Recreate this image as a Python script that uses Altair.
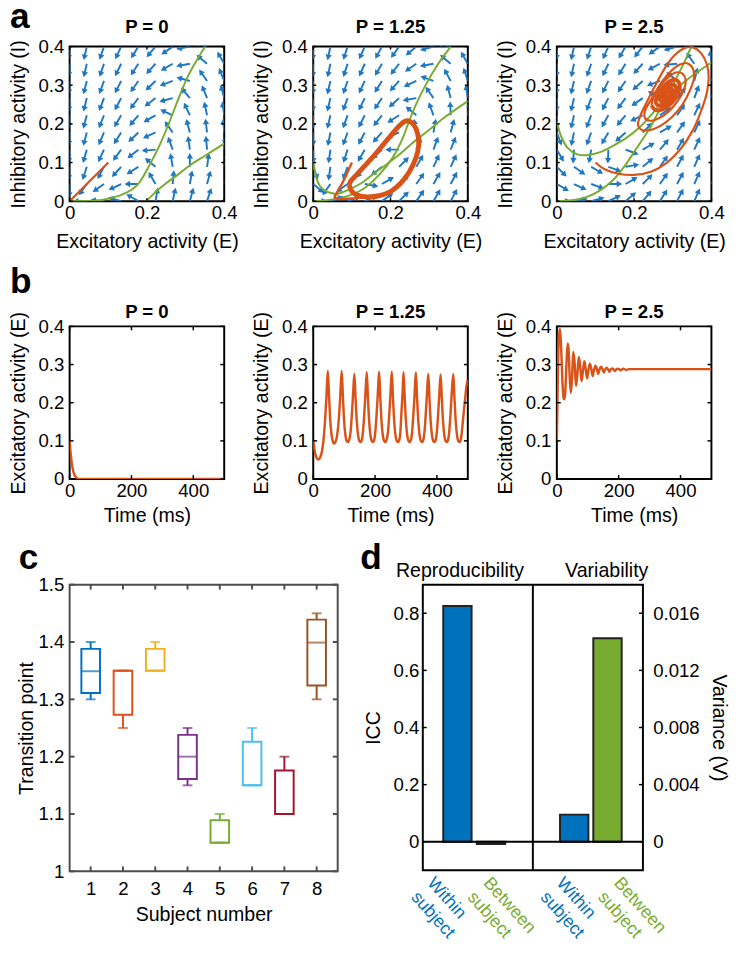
import altair as alt
import pandas as pd

FONT = "Liberation Sans"
BLUE = "#0072BD"
ORANGE = "#D95319"
GREEN = "#77AC30"
QUIVER = "#1f78c1"

# ---------------- panel a : phase planes ----------------
GRID = [0.0, 0.0444, 0.0889, 0.1333, 0.1778, 0.2222, 0.2667, 0.3111, 0.3556, 0.4]

# arrow directions in degrees (0 = towards +E, 90 = towards +I); first row is I = 0
A1_DIR = [
    [270, 180, 175, 165, 150, 80, 78, 75, 72, 70],
    [268, 235, 215, 205, 180, 120, 85, 80, 75, 72],
    [266, 252, 242, 228, 212, 140, 100, 90, 82, 78],
    [266, 254, 245, 234, 218, 185, 110, 98, 95, 85],
    [266, 255, 247, 238, 224, 205, 125, 105, 97, 95],
    [266, 255, 248, 240, 230, 210, 155, 115, 102, 98],
    [266, 256, 249, 242, 233, 218, 195, 130, 112, 105],
    [266, 256, 250, 243, 235, 224, 200, 165, 125, 112],
    [266, 257, 251, 244, 237, 228, 210, 190, 140, 120],
    [265, 257, 251, 245, 238, 230, 215, 190, 165, 130],
]
A2_DIR = [
    [0, 20, 20, 25, 35, 45, 55, 60, 62, 62],
    [320, 235, 215, 350, 30, 45, 55, 60, 62, 62],
    [290, 262, 250, 232, 218, 45, 60, 65, 65, 65],
    [270, 262, 252, 240, 222, 180, 70, 70, 68, 65],
    [270, 259, 250, 242, 228, 205, 100, 80, 75, 70],
    [268, 257, 250, 243, 232, 212, 140, 110, 92, 80],
    [268, 257, 250, 244, 236, 222, 190, 125, 105, 98],
    [268, 257, 251, 245, 238, 228, 205, 160, 118, 108],
    [268, 258, 252, 246, 240, 232, 215, 190, 140, 120],
    [268, 258, 252, 246, 241, 234, 220, 195, 170, 130],
]
A3_DIR = [
    [0, 10, 15, 25, 40, 50, 58, 63, 66, 68],
    [330, 335, 340, 0, 30, 45, 55, 62, 66, 68],
    [315, 325, 330, 340, 10, 40, 55, 62, 66, 68],
    [300, 266, 260, 268, 340, 30, 50, 60, 65, 68],
    [290, 258, 250, 240, 222, 45, 30, 55, 65, 68],
    [268, 257, 249, 241, 230, 205, 35, 55, 65, 68],
    [268, 257, 250, 243, 233, 215, 150, 50, 70, 72],
    [268, 257, 250, 244, 236, 222, 200, 140, 75, 70],
    [268, 258, 251, 245, 238, 228, 208, 185, 125, 95],
    [268, 258, 252, 246, 240, 232, 215, 195, 165, 135],
]

A1_NC1_E = [0.0, 0.04, 0.08, 0.131, 0.164, 0.181, 0.206, 0.232, 0.257, 0.282, 0.307, 0.349, 0.352]
A1_NC1_I = [0.0, 0.0005, 0.0025, 0.015, 0.032, 0.049, 0.092, 0.143, 0.202, 0.266, 0.325, 0.397, 0.4]
A1_NC2_E = [0.198, 0.223, 0.248, 0.282, 0.316, 0.349, 0.4]
A1_NC2_I = [0.0, 0.024, 0.045, 0.070, 0.096, 0.117, 0.149]
A1_TR_E = [0.1, 0.05, 0.0]
A1_TR_I = [0.1, 0.05, 0.0]

A2_NC1_E = [0.0, 0.008, 0.017, 0.029, 0.046, 0.063, 0.088, 0.122, 0.155, 0.189, 0.222, 0.256, 0.298, 0.340, 0.4]
A2_NC1_I = [0.105, 0.061, 0.040, 0.028, 0.021, 0.019, 0.028, 0.045, 0.070, 0.095, 0.120, 0.150, 0.183, 0.217, 0.259]
A2_NC2_E = [0.0, 0.046, 0.088, 0.130, 0.172, 0.205, 0.231, 0.247, 0.264, 0.289, 0.323, 0.356]
A2_NC2_I = [0.0, 0.004, 0.013, 0.032, 0.070, 0.112, 0.162, 0.204, 0.246, 0.297, 0.355, 0.4]
A2_TR_E = [0.1, 0.09, 0.078, 0.066, 0.058, 0.055, 0.062, 0.08, 0.1, 0.125, 0.15, 0.17]
A2_TR_I = [0.1, 0.078, 0.052, 0.03, 0.016, 0.01, 0.007, 0.006, 0.007, 0.01, 0.012, 0.014]
A2_CY_E = [0.093, 0.1, 0.115, 0.14, 0.17, 0.2, 0.225, 0.248, 0.265, 0.273, 0.27, 0.258, 0.243,
           0.228, 0.205, 0.18, 0.155, 0.13, 0.11, 0.097, 0.093]
A2_CY_I = [0.042, 0.025, 0.015, 0.011, 0.014, 0.025, 0.045, 0.075, 0.11, 0.145, 0.175, 0.2, 0.208,
           0.2, 0.175, 0.145, 0.115, 0.088, 0.066, 0.052, 0.042]

A3_NC1_E = [0.0, 0.011, 0.028, 0.053, 0.078, 0.112, 0.145, 0.179, 0.213, 0.246, 0.285, 0.313, 0.347, 0.4]
A3_NC1_I = [0.206, 0.168, 0.138, 0.121, 0.119, 0.127, 0.143, 0.163, 0.190, 0.225, 0.272, 0.295, 0.322, 0.359]
A3_NC2_E = [0.0, 0.045, 0.078, 0.112, 0.145, 0.175, 0.205, 0.235, 0.26, 0.285, 0.31, 0.33, 0.347, 0.349]
A3_NC2_I = [0.0, 0.003, 0.011, 0.028, 0.054, 0.09, 0.135, 0.18, 0.225, 0.272, 0.32, 0.36, 0.397, 0.4]
A3_SP_E = [0.100, 0.125, 0.160, 0.200, 0.245, 0.285, 0.320, 0.350, 0.372, 0.388, 0.393, 0.388, 0.373,
           0.352, 0.330, 0.305, 0.280, 0.255, 0.232, 0.215, 0.210, 0.218, 0.240, 0.268, 0.298, 0.325,
           0.345, 0.355, 0.351, 0.337, 0.317, 0.293, 0.268, 0.245, 0.228, 0.228, 0.242, 0.265, 0.292,
           0.315, 0.330, 0.333, 0.325, 0.308, 0.288, 0.266, 0.250, 0.245]
A3_SP_I = [0.100, 0.082, 0.071, 0.068, 0.077, 0.100, 0.135, 0.180, 0.230, 0.280, 0.320, 0.355, 0.383,
           0.398, 0.396, 0.378, 0.345, 0.300, 0.255, 0.218, 0.197, 0.185, 0.184, 0.195, 0.218, 0.250,
           0.288, 0.320, 0.345, 0.357, 0.353, 0.334, 0.303, 0.265, 0.233, 0.215, 0.208, 0.215, 0.235,
           0.263, 0.292, 0.315, 0.330, 0.333, 0.320, 0.296, 0.268, 0.248]
A3_IN_E = [0.245, 0.255, 0.275, 0.298, 0.314, 0.318, 0.310, 0.293, 0.273, 0.259, 0.257, 0.268, 0.288,
           0.304, 0.309, 0.300, 0.284, 0.269, 0.266, 0.276, 0.292, 0.300, 0.295, 0.282, 0.273, 0.278,
           0.290, 0.292, 0.283, 0.280, 0.286]
A3_IN_I = [0.248, 0.236, 0.238, 0.255, 0.280, 0.300, 0.313, 0.311, 0.293, 0.270, 0.253, 0.247, 0.256,
           0.275, 0.293, 0.302, 0.296, 0.279, 0.263, 0.257, 0.266, 0.282, 0.292, 0.288, 0.275, 0.266,
           0.272, 0.282, 0.283, 0.275, 0.275]

# ---------------- panel b : time series ----------------
B1_T = [0, 3, 6, 10, 14, 18, 24, 32, 500]
B1_E = [0.1, 0.07, 0.047, 0.027, 0.014, 0.007, 0.002, 0.0, 0.0]

B2_T = [0, 5, 10, 16, 22, 28, 33, 38, 43, 47,
        51, 55, 59, 63, 67, 72, 77, 82, 87, 92,
        96, 100, 104, 108, 112, 116, 121, 125, 129, 133,
        137, 141, 145, 149, 153, 157, 161, 165, 169, 173,
        177, 181, 185, 189, 193, 197, 201, 205, 209, 213,
        217, 221, 225, 229, 233, 237, 242, 246, 250, 254,
        258, 262, 266, 270, 274, 278, 282, 285, 289, 292,
        296, 300, 304, 308, 312, 316, 320, 324, 328, 332,
        336, 340, 344, 348, 352, 356, 360, 364, 368, 372,
        376, 380, 384, 388, 392, 396, 400, 404, 408, 412,
        416, 420, 424, 428, 432, 436, 440, 444, 448, 453,
        457, 461, 465, 469, 473, 477, 481, 485, 490, 496, 500]
B2_E = [0.1, 0.072, 0.057, 0.051, 0.056, 0.072, 0.1, 0.15, 0.22, 0.283,
        0.22, 0.155, 0.118, 0.1, 0.093, 0.097, 0.113, 0.15, 0.21, 0.283,
        0.215, 0.15, 0.116, 0.1, 0.097, 0.102, 0.125, 0.17, 0.225, 0.275,
        0.21, 0.15, 0.115, 0.1, 0.097, 0.102, 0.125, 0.17, 0.225, 0.28,
        0.212, 0.15, 0.115, 0.1, 0.097, 0.102, 0.125, 0.17, 0.225, 0.281,
        0.212, 0.15, 0.115, 0.1, 0.097, 0.102, 0.125, 0.17, 0.225, 0.281,
        0.212, 0.15, 0.115, 0.1, 0.097, 0.102, 0.125, 0.17, 0.225, 0.28,
        0.212, 0.15, 0.115, 0.1, 0.097, 0.102, 0.125, 0.17, 0.225, 0.279,
        0.21, 0.15, 0.115, 0.1, 0.097, 0.102, 0.125, 0.17, 0.225, 0.275,
        0.21, 0.15, 0.115, 0.1, 0.097, 0.102, 0.125, 0.17, 0.225, 0.274,
        0.21, 0.15, 0.115, 0.1, 0.097, 0.102, 0.125, 0.17, 0.225, 0.275,
        0.21, 0.15, 0.115, 0.1, 0.097, 0.102, 0.125, 0.16, 0.2, 0.245, 0.26]

B3_T = [0, 2, 4, 7, 10, 13, 16, 19, 22, 24, 27, 31, 35, 38, 41, 45, 49, 53, 57, 62,
        66, 71, 75, 80, 84, 89, 93, 98, 102, 107, 111, 116, 120, 125, 129, 134, 138, 143,
        147, 152, 156, 161, 165, 170, 174, 179, 183, 188, 192, 197, 201, 206, 215, 224, 233, 500]
B3_E = [0.1, 0.2, 0.31, 0.375, 0.393, 0.36, 0.3, 0.24, 0.212, 0.209, 0.225, 0.3, 0.355, 0.34,
        0.28, 0.226, 0.26, 0.333, 0.31, 0.244, 0.27, 0.32, 0.3, 0.256, 0.28, 0.309, 0.29, 0.264,
        0.285, 0.302, 0.29, 0.27, 0.285, 0.297, 0.29, 0.275, 0.287, 0.294, 0.289, 0.279, 0.287,
        0.292, 0.288, 0.281, 0.287, 0.29, 0.288, 0.283, 0.287, 0.289, 0.288, 0.285, 0.289, 0.286,
        0.288, 0.288]

# ---------------- panel c : box plots ----------------
SUBJECTS = [1, 2, 3, 4, 5, 6, 7, 8]
C_MIN = [1.30, 1.25, 1.35, 1.15, 1.05, 1.15, 1.10, 1.30]
C_Q1 = [1.311, 1.273, 1.35, 1.161, 1.05, 1.15, 1.10, 1.324]
C_MED = [1.349, 1.35, 1.35, 1.20, 1.05, 1.15, 1.10, 1.399]
C_Q3 = [1.388, 1.35, 1.388, 1.238, 1.089, 1.226, 1.176, 1.439]
C_MAX = [1.40, 1.35, 1.40, 1.25, 1.10, 1.25, 1.20, 1.45]
C_COLORS = ["#0072BD", "#D95319", "#EDB120", "#7E2F8E", "#77AC30", "#4DBEEE", "#A2142F", "#995224"]

# ---------------- panel d : bars ----------------
D_POS = [0.565, 1.204, 2.786, 3.419]
ICC_VALUES = [0.825, -0.008]
VAR_VALUES = [0.0019, 0.01425]
D_LABELS = ["Within\nsubject", "Between\nsubject", "Within\nsubject", "Between\nsubject"]
D_LABEL_X = [0.17, 1.24, 2.63, 3.72]
D_COLORS = [BLUE, GREEN, BLUE, GREEN]

ARROW = "M-0.14,0L0.14,0L0.14,-1.2L0.46,-1.2L0,-2L-0.46,-1.2L-0.14,-1.2Z"
ONE = pd.DataFrame({"z": [0]})


def ax(values, title, lp=4, tp=8, orient=None):
    kw = dict(values=values, title=title, format="~r", domain=False, ticks=False, tickSize=0,
              grid=False, labelPadding=lp, titlePadding=tp, labelFontSize=19, titleFontSize=20,
              labelFont=FONT, titleFont=FONT, labelColor="black", titleColor="black",
              titleFontWeight="normal", labelFlush=False, labelOverlap=False)
    if orient:
        kw["orient"] = orient
    return alt.Axis(**kw)


def tick_layers(xe, ye, xf, yf, xt, yt, w, h, L=4, color="black", sw=1.5):
    tx = pd.DataFrame({xf: xt})
    ty = pd.DataFrame({yf: yt})
    m = dict(color=color, strokeWidth=sw)
    return [
        alt.Chart(tx).mark_rule(**m).encode(x=xe, y=alt.value(h), y2=alt.value(h - L)),
        alt.Chart(tx).mark_rule(**m).encode(x=xe, y=alt.value(0), y2=alt.value(L)),
        alt.Chart(ty).mark_rule(**m).encode(y=ye, x=alt.value(0), x2=alt.value(L)),
        alt.Chart(ty).mark_rule(**m).encode(y=ye, x=alt.value(w), x2=alt.value(w - L)),
    ]


def anchors(x1, y1, x2, y2):
    # invisible points that fix the outer box of a panel in the layout
    out = []
    for x, y in ((x1, y1), (x2, y2)):
        out.append(alt.Chart(ONE).mark_point(size=1, opacity=0, strokeWidth=0).encode(
            x=alt.value(x), y=alt.value(y)))
    return out


def text_at(txt, x, y, size=19, bold=True, align="center", base="alphabetic"):
    return alt.Chart(ONE).mark_text(text=txt, font=FONT, fontSize=size,
                                    fontWeight="bold" if bold else "normal",
                                    align=align, baseline=base, color="black").encode(
        x=alt.value(x), y=alt.value(y))


def letter(ch, x, y):
    return text_at(ch, x, y, size=36, bold=True, align="left")


def frame(color="black"):
    return alt.ViewBackground(stroke=color, strokeWidth=2)


AS = alt.Scale(domain=[0, 0.4], nice=False, zero=False)
AW, AH = 158, 158


def line_df(E, I):
    return pd.DataFrame({"E": E, "I": I, "k": list(range(len(E)))})


def phase_panel(title, dirs, nulls, trajs, extra=()):
    xe = alt.X("E:Q", scale=AS, axis=ax([0, 0.2, 0.4], "Excitatory activity (E)", lp=3, tp=9))
    ye = alt.Y("I:Q", scale=AS, axis=ax([0, 0.1, 0.2, 0.3, 0.4], "Inhibitory activity (I)", lp=6, tp=10))
    recs = []
    for j, row in enumerate(dirs):
        for i, d in enumerate(row):
            recs.append({"E": GRID[i], "I": GRID[j], "dir": d})
    q = alt.Chart(pd.DataFrame(recs)).transform_calculate(
        rot="(450 - datum.dir) % 360"
    ).mark_point(shape=ARROW, filled=True, size=200, color=QUIVER, opacity=1, strokeWidth=0,
                 clip=True).encode(x=xe, y=ye, angle=alt.Angle("rot:Q", scale=None))
    layers = [q]
    for E, I in nulls:
        layers.append(alt.Chart(line_df(E, I)).mark_line(
            color=GREEN, strokeWidth=2, interpolate="catmull-rom", clip=True).encode(
            x=xe, y=ye, order="k:Q"))
    for E, I, w in trajs:
        layers.append(alt.Chart(line_df(E, I)).mark_line(
            color=ORANGE, strokeWidth=w, interpolate="catmull-rom", clip=True).encode(
            x=xe, y=ye, order="k:Q"))
    layers += tick_layers(xe, ye, "E", "I", [0, 0.2, 0.4], [0, 0.1, 0.2, 0.3, 0.4], AW, AH, L=3)
    layers += anchors(-73, -60, AW + 14, AH + 54)
    layers.append(text_at(title, AW / 2, -14))
    layers += list(extra)
    return alt.layer(*layers).properties(width=AW, height=AH, view=frame())


BXS = alt.Scale(domain=[0, 500], nice=False, zero=False)
BYS = alt.Scale(domain=[0, 0.4], nice=False, zero=False)
BW, BH = 158, 156


def time_panel(title, T, E, extra=()):
    xe = alt.X("t:Q", scale=BXS, axis=ax([0, 200, 400], "Time (ms)", lp=3, tp=5))
    ye = alt.Y("E:Q", scale=BYS, axis=ax([0, 0.1, 0.2, 0.3, 0.4], "Excitatory activity (E)", lp=6, tp=10))
    ln = alt.Chart(pd.DataFrame({"t": T, "E": E, "k": list(range(len(T)))})).mark_line(
        color=ORANGE, strokeWidth=2.5, interpolate="monotone", clip=True).encode(
        x=xe, y=ye, order="k:Q")
    layers = [ln] + tick_layers(xe, ye, "t", "E", [0, 200, 400], [0, 0.1, 0.2, 0.3, 0.4], BW, BH, L=4)
    layers += anchors(-73, -70, BW + 14, BH + 50)
    layers.append(text_at(title, BW / 2, -9))
    layers += list(extra)
    return alt.layer(*layers).properties(width=BW, height=BH, view=frame())


a1 = phase_panel("P = 0", A1_DIR, [(A1_NC1_E, A1_NC1_I), (A1_NC2_E, A1_NC2_I)],
                 [(A1_TR_E, A1_TR_I, 2.2)], extra=[letter("a", -61, -19)])
a2 = phase_panel("P = 1.25", A2_DIR, [(A2_NC1_E, A2_NC1_I), (A2_NC2_E, A2_NC2_I)],
                 [(A2_TR_E, A2_TR_I, 2.5), (A2_CY_E, A2_CY_I, 5)])
a3 = phase_panel("P = 2.5", A3_DIR, [(A3_NC1_E, A3_NC1_I), (A3_NC2_E, A3_NC2_I)],
                 [(A3_SP_E, A3_SP_I, 2.2), (A3_IN_E, A3_IN_I, 4)])

b1 = time_panel("P = 0", B1_T, B1_E, extra=[letter("b", -61, -34)])
b2 = time_panel("P = 1.25", B2_T, B2_E)
b3 = time_panel("P = 2.5", B3_T, B3_E)

# ---- panel c ----
CW, CH = 274, 293
CXS = alt.Scale(domain=[0.5, 8.5], nice=False, zero=False)
CYS = alt.Scale(domain=[1, 1.5], nice=False, zero=False)
cdf = pd.DataFrame({"s": SUBJECTS, "mn": C_MIN, "q1": C_Q1, "md": C_MED, "q3": C_Q3, "mx": C_MAX})
ccol = alt.Color("s:N", scale=alt.Scale(domain=SUBJECTS, range=C_COLORS), legend=None)
cx = alt.X("s:Q", scale=CXS, axis=ax(SUBJECTS, "Subject number", lp=9, tp=6))
cy_axis = ax([1, 1.1, 1.2, 1.3, 1.4, 1.5], "Transition point", lp=6, tp=2)


def cy(f):
    return alt.Y(f"{f}:Q", scale=CYS, axis=cy_axis)


c_layers = [
    alt.Chart(cdf).mark_rule(strokeWidth=2).encode(x=cx, y=cy("q3"), y2="mx:Q", color=ccol),
    alt.Chart(cdf).mark_rule(strokeWidth=2).encode(x=cx, y=cy("q1"), y2="mn:Q", color=ccol),
    alt.Chart(cdf).mark_tick(orient="horizontal", size=10, thickness=2).encode(x=cx, y=cy("mx"), color=ccol),
    alt.Chart(cdf).mark_tick(orient="horizontal", size=10, thickness=2).encode(x=cx, y=cy("mn"), color=ccol),
    alt.Chart(cdf).mark_bar(filled=False, size=19, strokeWidth=2, fillOpacity=0).encode(
        x=cx, y=cy("q3"), y2="q1:Q", color=ccol),
    alt.Chart(cdf).mark_tick(orient="horizontal", size=19, thickness=2).encode(x=cx, y=cy("md"), color=ccol),
]
c_layers += tick_layers(cx, cy("v"), "s", "v", SUBJECTS, [1, 1.1, 1.2, 1.3, 1.4, 1.5], CW, CH, L=5,
                        color="#4d4d4d", sw=2)
c_layers += anchors(-64, -54, CW + 3, CH + 20)
c_layers.append(letter("c", -52, -16))
c_chart = alt.layer(*c_layers).properties(width=CW, height=CH, view=frame("#4d4d4d"))

# ---- panel d ----
DW, DH = 225, 292
DXS = alt.Scale(domain=[0, 4], nice=False, zero=False)
DY1 = alt.Scale(domain=[-0.1, 0.9], nice=False, zero=False)
DY2 = alt.Scale(domain=[-0.002, 0.018], nice=False, zero=False)
dx = alt.X("x:Q", scale=DXS, axis=None)

icc_df = pd.DataFrame({"x": D_POS[:2], "v": ICC_VALUES, "b": [0, 0], "c": [BLUE, GREEN]})
var_df = pd.DataFrame({"x": D_POS[2:], "v": VAR_VALUES, "b": [0, 0], "c": [BLUE, GREEN]})
lab_df = pd.DataFrame({"x": D_LABEL_X, "t": D_LABELS, "c": D_COLORS})

d_layers = [
    alt.Chart(icc_df).mark_bar(size=29, stroke="#222222", strokeWidth=2).encode(
        x=dx, y=alt.Y("v:Q", scale=DY1, axis=ax([0, 0.2, 0.4, 0.6, 0.8], "ICC", lp=4, tp=10)),
        y2="b:Q", color=alt.Color("c:N", scale=None)),
    alt.Chart(var_df).mark_bar(size=29, stroke="#222222", strokeWidth=2).encode(
        x=dx, y=alt.Y("v:Q", scale=DY2, axis=ax([0, 0.004, 0.008, 0.012, 0.016], "Variance (V)",
                                              lp=10, tp=10, orient="right")),
        y2="b:Q", color=alt.Color("c:N", scale=None)),
    alt.Chart(pd.DataFrame({"v": [0]})).mark_rule(color="black", strokeWidth=2).encode(
        y=alt.Y("v:Q", scale=DY1, axis=None), x=alt.value(0), x2=alt.value(DW)),
    alt.Chart(pd.DataFrame({"x": [2]})).mark_rule(color="black", strokeWidth=2).encode(
        x=dx, y=alt.value(0), y2=alt.value(DH)),
    alt.Chart(pd.DataFrame({"v": [0, 0.2, 0.4, 0.6, 0.8]})).mark_rule(color="black", strokeWidth=1.5).encode(
        y=alt.Y("v:Q", scale=DY1, axis=None), x=alt.value(0), x2=alt.value(4)),
    alt.Chart(pd.DataFrame({"v": [0, 0.004, 0.008, 0.012, 0.016]})).mark_rule(color="black", strokeWidth=1.5).encode(
        y=alt.Y("v:Q", scale=DY2, axis=None), x=alt.value(DW), x2=alt.value(DW - 4)),
    text_at("Reproducibility", 38, -8, size=20, bold=False),
    text_at("Variability", 188, -8, size=20, bold=False),
    alt.Chart(lab_df).mark_text(angle=48, align="left", baseline="top", lineBreak="\n", font=FONT,
                                fontSize=18, lineHeight=22).encode(
        x=dx, y=alt.value(DH + 4), text="t:N", color=alt.Color("c:N", scale=None)),
    letter("d", -64, -16),
] + anchors(-80, -54, DW, DH)
d_chart = alt.layer(*d_layers).resolve_scale(y="independent").properties(
    width=DW, height=DH, view=frame())

row_a = alt.hconcat(a1, a2, a3, spacing=0)
row_b = alt.hconcat(b1, b2, b3, spacing=0)
row_cd = alt.hconcat(c_chart, d_chart, spacing=0)

chart = alt.vconcat(row_a, row_b, row_cd, spacing=0).properties(
    padding={"left": -12, "top": -33, "right": 0, "bottom": -12}
).configure(font=FONT).configure_view(stroke=None)

chart.save("out.html", embed_options={"renderer": "svg", "actions": False})
